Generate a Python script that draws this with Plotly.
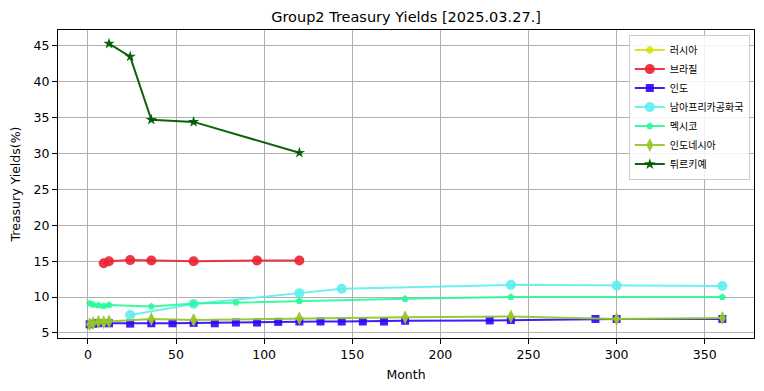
import plotly.graph_objects as go

# ---- data ----
names = ["러시아", "브라질", "인도", "남아프리카공화국", "멕시코", "인도네시아", "튀르키예"]

russia_m = []
russia_y = []

brazil_m = [9, 12, 24, 36, 60, 96, 120]
brazil_y = [14.7, 15.0, 15.15, 15.1, 15.0, 15.1, 15.1]

india_m = [1, 3, 6, 12, 24, 36, 48, 60, 72, 84, 96, 108, 120, 132, 144, 156, 168, 180, 228, 240, 288, 300, 360]
india_y = [6.2, 6.3, 6.35, 6.35, 6.3, 6.35, 6.35, 6.4, 6.35, 6.45, 6.45, 6.55, 6.6, 6.6, 6.6, 6.6, 6.6, 6.7, 6.75, 6.8, 6.95, 6.95, 6.95]

safrica_m = [24, 60, 120, 144, 240, 300, 360]
safrica_y = [7.5, 9.05, 10.55, 11.15, 11.7, 11.6, 11.55]

mexico_m = [1, 3, 6, 9, 12, 36, 60, 84, 120, 180, 240, 360]
mexico_y = [9.1, 8.95, 8.85, 8.75, 8.9, 8.7, 9.1, 9.25, 9.45, 9.75, 10.0, 10.0]

indonesia_m = [1, 3, 6, 9, 12, 36, 60, 120, 180, 240, 300, 360]
indonesia_y = [6.2, 6.4, 6.55, 6.5, 6.6, 6.95, 6.8, 7.05, 7.2, 7.3, 6.95, 7.1]

turkey_m = [12, 24, 36, 60, 120]
turkey_y = [45.3, 43.5, 34.7, 34.4, 30.1]

xticks = [0, 50, 100, 150, 200, 250, 300, 350]
yticks = [5, 10, 15, 20, 25, 30, 35, 40, 45]

series = [
    (russia_m, russia_y, "rgba(212,224,0,0.85)", "hexagon", 8),
    (brazil_m, brazil_y, "rgba(234,34,48,0.9)", "circle", 10),
    (india_m, india_y, "rgba(50,0,255,0.9)", "square", 8),
    (safrica_m, safrica_y, "rgba(92,238,238,0.9)", "circle", 10),
    (mexico_m, mexico_y, "rgba(40,250,150,0.9)", "pentagon", 7.5),
    (indonesia_m, indonesia_y, "rgba(148,200,40,0.95)", "diamond-tall", 10),
    (turkey_m, turkey_y, "rgba(0,90,0,0.95)", "star", 8.5),
]

fig = go.Figure()
for name, (mx, my, col, sym, sz) in zip(names, series):
    if len(mx) == 0:
        mx, my = [None], [None]
    fig.add_trace(go.Scatter(
        x=mx, y=my, name=name, mode="lines+markers",
        line=dict(color=col, width=2),
        marker=dict(color=col, symbol=sym, size=sz, line=dict(width=0)),
    ))

font_main = "DejaVu Sans, Noto Sans CJK KR, sans-serif"

fig.update_layout(
    width=764, height=391,
    paper_bgcolor="white", plot_bgcolor="white",
    margin=dict(l=57.5, r=9.7, t=30.3, b=52.7, autoexpand=False),
    title=dict(text="Group2 Treasury Yields [2025.03.27.]", x=0.5315, xanchor="center",
               y=0.957, yanchor="middle", font=dict(family=font_main, size=14.5, color="black")),
    font=dict(family=font_main, size=12.5, color="black"),
    showlegend=True,
    legend=dict(x=0.994, y=0.985, xanchor="right", yanchor="top",
                bgcolor="rgba(255,255,255,0.85)", bordercolor="#cccccc", borderwidth=1,
                font=dict(family="Noto Sans CJK KR, DejaVu Sans, sans-serif", size=10),
                tracegroupgap=0, itemwidth=30),
)

fig.update_xaxes(
    range=[-16.95, 377.95], tickvals=xticks, ticktext=[str(t) for t in xticks],
    showgrid=True, gridcolor="#b0b0b0", gridwidth=1,
    showline=True, linecolor="black", linewidth=1, mirror=True,
    ticks="outside", ticklen=5, tickcolor="black", zeroline=False, automargin=False,
    title=dict(text="Month", standoff=9, font=dict(size=12.5)),
)
fig.update_yaxes(
    range=[4.3, 47.2], tickvals=yticks, ticktext=[str(t) for t in yticks],
    showgrid=True, gridcolor="#b0b0b0", gridwidth=1,
    showline=True, linecolor="black", linewidth=1, mirror=True,
    ticks="outside", ticklen=5, tickcolor="black", zeroline=False, automargin=False,
    title=dict(text="Treasury Yields(%)", standoff=10, font=dict(size=12.5)),
)

fig.write_html("out.html", config={"displayModeBar": False},
               post_script="document.body.style.margin='0';document.body.style.padding='0';")
